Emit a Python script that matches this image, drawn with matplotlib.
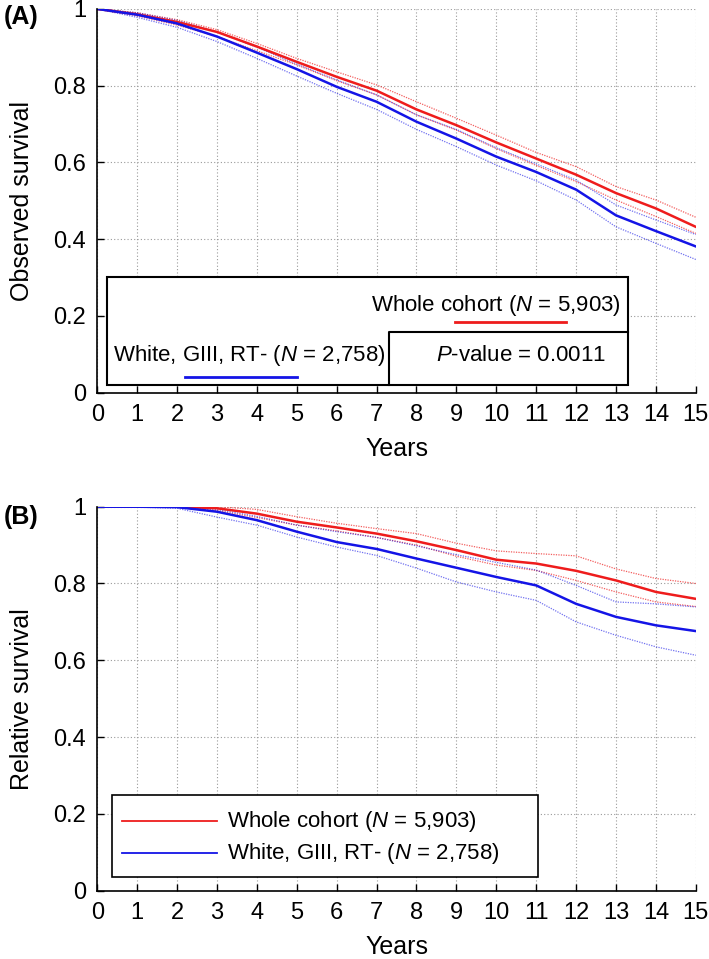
import matplotlib
matplotlib.use("Agg")
import matplotlib.pyplot as plt
from matplotlib.patches import Rectangle

plt.rcParams["font.family"] = ["Liberation Sans", "DejaVu Sans"]
plt.rcParams["mathtext.fontset"] = "custom"
plt.rcParams["mathtext.it"] = "Liberation Sans:italic"
plt.rcParams["mathtext.rm"] = "Liberation Sans"

years = list(range(16))

# (A) observed survival
obs_whole = [1.0, 0.986, 0.966, 0.940, 0.902, 0.862, 0.823, 0.787, 0.738, 0.697, 0.652, 0.610, 0.568, 0.520, 0.480, 0.432]
obs_whole_hi = [1.0, 0.990, 0.972, 0.946, 0.910, 0.871, 0.836, 0.802, 0.758, 0.715, 0.671, 0.626, 0.589, 0.537, 0.502, 0.457]
obs_whole_lo = [1.0, 0.982, 0.958, 0.928, 0.891, 0.854, 0.813, 0.776, 0.724, 0.684, 0.636, 0.592, 0.550, 0.502, 0.459, 0.415]
obs_white = [1.0, 0.985, 0.962, 0.928, 0.886, 0.843, 0.797, 0.758, 0.706, 0.662, 0.615, 0.575, 0.529, 0.462, 0.421, 0.381]
obs_white_hi = [1.0, 0.990, 0.970, 0.940, 0.900, 0.856, 0.815, 0.776, 0.724, 0.686, 0.638, 0.596, 0.554, 0.489, 0.450, 0.412]
obs_white_lo = [1.0, 0.978, 0.952, 0.915, 0.871, 0.825, 0.780, 0.738, 0.686, 0.641, 0.593, 0.552, 0.502, 0.432, 0.389, 0.347]

# (B) relative survival
rel_whole = [1.0, 1.0, 1.0, 0.996, 0.982, 0.961, 0.946, 0.930, 0.910, 0.887, 0.862, 0.852, 0.833, 0.808, 0.778, 0.760]
rel_whole_hi = [1.0, 1.0, 1.0, 1.0, 0.993, 0.974, 0.957, 0.943, 0.930, 0.905, 0.885, 0.878, 0.872, 0.838, 0.813, 0.800]
rel_whole_lo = [1.0, 1.0, 0.999, 0.990, 0.972, 0.952, 0.937, 0.920, 0.900, 0.871, 0.848, 0.834, 0.808, 0.778, 0.752, 0.740]
rel_white = [1.0, 1.0, 0.999, 0.987, 0.965, 0.935, 0.908, 0.890, 0.865, 0.841, 0.817, 0.795, 0.747, 0.713, 0.691, 0.676]
rel_white_hi = [1.0, 1.0, 1.0, 0.993, 0.975, 0.952, 0.935, 0.920, 0.898, 0.875, 0.855, 0.835, 0.795, 0.752, 0.747, 0.739]
rel_white_lo = [1.0, 0.999, 0.996, 0.973, 0.952, 0.921, 0.895, 0.873, 0.840, 0.804, 0.778, 0.756, 0.700, 0.665, 0.635, 0.613]

label_whole = "Whole cohort ($N$ = 5,903)"
label_white = "White, GIII, RT- ($N$ = 2,758)"
pval_text = "$P$-value = 0.0011"

RED = "#ee1c1c"
BLUE = "#1414e6"

fig = plt.figure(figsize=(7.09, 9.59), dpi=100)
axA = fig.add_axes([0.1372, 0.5906, 0.8442, 0.4001])
axB = fig.add_axes([0.1372, 0.0714, 0.8442, 0.4002])


def style(ax, ylabel):
    ax.set_xlim(0, 15)
    ax.set_ylim(0, 1)
    ax.set_xticks(range(16))
    ax.set_yticks([0, 0.2, 0.4, 0.6, 0.8, 1.0])
    ax.set_yticklabels(["0", "0.2", "0.4", "0.6", "0.8", "1"])
    ax.tick_params(direction="in", length=5, width=1, labelsize=17, pad=8)
    ax.grid(True, color="#9a9a9a", linestyle=(0, (1, 2)), linewidth=0.8)
    ax.set_axisbelow(True)
    for s in ["top", "right"]:
        ax.spines[s].set_visible(False)
    for s in ["left", "bottom"]:
        ax.spines[s].set_linewidth(1.2)
    ax.set_xlabel("Years", fontsize=18)
    ax.set_ylabel(ylabel, fontsize=18)
    ax.xaxis.set_label_coords(0.5, -0.115)
    ax.yaxis.set_label_coords(-0.106, 0.5)


def curves(ax, whole, whole_hi, whole_lo, white, white_hi, white_lo):
    ax.plot(years, whole_hi, color=RED, lw=0.9, ls=(0, (1, 1)), alpha=0.7)
    ax.plot(years, whole_lo, color=RED, lw=0.9, ls=(0, (1, 1)), alpha=0.7)
    ax.plot(years, white_hi, color=BLUE, lw=0.9, ls=(0, (1, 1)), alpha=0.6)
    ax.plot(years, white_lo, color=BLUE, lw=0.9, ls=(0, (1, 1)), alpha=0.6)
    ax.plot(years, whole, color=RED, lw=1.8)
    ax.plot(years, white, color=BLUE, lw=1.8)


# panel A
style(axA, "Observed survival")
curves(axA, obs_whole, obs_whole_hi, obs_whole_lo, obs_white, obs_white_hi, obs_white_lo)
axA.add_patch(Rectangle((0.25, 0.02), 13.05, 0.282, facecolor="white",
                        edgecolor="black", lw=1.5, zorder=5))
axA.plot([7.3, 7.3, 13.3], [0.02, 0.159, 0.159], color="black", lw=1.5, zorder=6)
axA.text(13.12, 0.228, label_whole, ha="right", va="center", fontsize=16, zorder=7)
axA.plot([8.96, 11.75], [0.184, 0.184], color=RED, lw=2, zorder=7)
axA.text(12.75, 0.098, pval_text, ha="right", va="center", fontsize=16, zorder=7)
axA.text(0.4, 0.098, label_white, ha="left", va="center", fontsize=16, zorder=7)
axA.plot([2.2, 5.0], [0.04, 0.04], color=BLUE, lw=2, zorder=7)

# panel B
style(axB, "Relative survival")
curves(axB, rel_whole, rel_whole_hi, rel_whole_lo, rel_white, rel_white_hi, rel_white_lo)
axB.add_patch(Rectangle((0.375, 0.035), 10.675, 0.215, facecolor="white",
                        edgecolor="black", lw=1.2, zorder=5))
axB.plot([0.62, 3.0], [0.18, 0.18], color=RED, lw=1.3, zorder=7)
axB.plot([0.62, 3.0], [0.097, 0.097], color=BLUE, lw=1.3, zorder=7)
axB.text(3.25, 0.18, label_whole, ha="left", va="center", fontsize=16, zorder=7)
axB.text(3.25, 0.097, label_white, ha="left", va="center", fontsize=16, zorder=7)

fig.text(0.005, 0.982, "(A)", fontsize=18, fontweight="bold", ha="left", va="center")
fig.text(0.005, 0.461, "(B)", fontsize=18, fontweight="bold", ha="left", va="center")

fig.savefig("out.png", dpi=100)
